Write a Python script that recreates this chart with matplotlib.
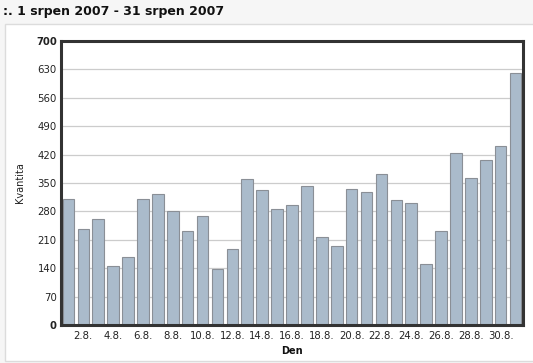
import matplotlib
matplotlib.use("Agg")
from matplotlib import pyplot as plt
from matplotlib.patches import Rectangle

# values
days = list(range(1, 32))
counts = [310, 236, 262, 145, 167, 311, 323, 281, 232, 268,
          138, 187, 360, 333, 286, 296, 342, 216, 195, 335,
          328, 373, 308, 301, 151, 233, 424, 362, 406, 440, 620]
tick_days = list(range(2, 31, 2))
tick_labels = ['%d.8.' % d for d in tick_days]
y_ticks = list(range(0, 701, 70))

title = ':. 1 srpen 2007 - 31 srpen 2007'

fig = plt.figure(figsize=(5.33, 3.63), dpi=100)
fig.patch.set_facecolor('#f6f6f6')

# white panel behind the chart
panel = Rectangle((5 / 533, 2 / 363), 1.0, (363 - 26) / 363,
                  transform=fig.transFigure, facecolor='white',
                  edgecolor='#dcdcdc', linewidth=1.0, zorder=-1)
fig.patches.append(panel)

fig.text(3 / 533, 1 - 12 / 363, title, fontsize=9, fontweight='bold',
         va='center', ha='left', color='#111111')

ax = fig.add_axes([61 / 533, (363 - 325.3) / 363, 462 / 533, 284.6 / 363])
ax.set_zorder(2)
ax.set_facecolor('white')

ax.bar(days, counts, width=0.78, color='#aabbcb', edgecolor='#8a8f96',
       linewidth=0.8, zorder=2)

ax.set_xlim(0.5, 31.5)
ax.set_ylim(0, 700)
ax.set_yticks(y_ticks)
ax.set_xticks(tick_days)
ax.set_xticklabels(tick_labels)
ax.tick_params(axis='both', length=0, labelsize=7.3, colors='#222222')
ax.tick_params(axis='x', pad=4)
ax.tick_params(axis='y', pad=3)
for lab in ax.get_yticklabels():
    if lab.get_text() in ('0', '700'):
        lab.set_fontweight('bold')

ax.grid(axis='y', color='#cccccc', linewidth=0.9, zorder=1)
ax.set_axisbelow(True)
for side in ax.spines.values():
    side.set_linewidth(2.2)
    side.set_color('#333333')

ax.set_ylabel('Kvantita', fontsize=7, labelpad=8, color='#222222')
ax.set_xlabel('Den', fontsize=7, fontweight='bold', labelpad=4, color='#111111')

fig.savefig('out.png', dpi=100, facecolor=fig.get_facecolor())
